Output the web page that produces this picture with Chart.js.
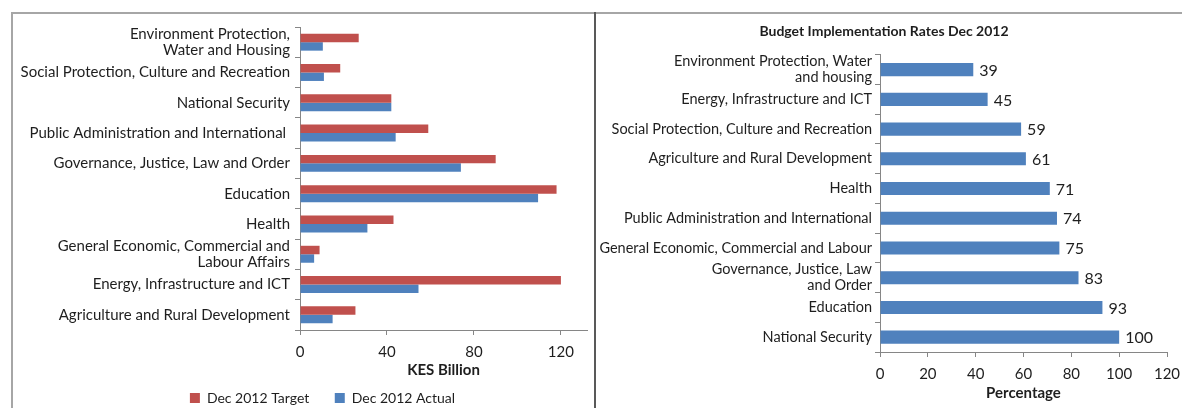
<!DOCTYPE html>
<html>
<head>
<meta charset="utf-8">
<script src="https://cdn.jsdelivr.net/npm/chart.js@4.4.1/dist/chart.umd.min.js"></script>
<style>
  html, body { margin: 0; padding: 0; background: #fff; width: 1182px; height: 408px; overflow: hidden; }
  .wrap { position: absolute; }
  .line { position: absolute; }
</style>
</head>
<body>
<div class="line" style="left:11px;top:12px;width:1171px;height:2px;background:#a6a6a6"></div>
<div class="line" style="left:11px;top:12px;width:2px;height:396px;background:#a6a6a6"></div>
<div class="line" style="left:594px;top:12px;width:2px;height:396px;background:#595959"></div>
<div class="wrap" style="left:13px;top:14px;width:581px;height:401px"><canvas id="spendChart"></canvas></div>
<div class="wrap" style="left:596px;top:14px;width:586px;height:394px"><canvas id="rateChart"></canvas></div>
<script>
const sectors = [
    ['Environment Protection,', 'Water and Housing'],
    'Social Protection, Culture and Recreation',
    'National Security',
    'Public Administration and International ',
    'Governance, Justice, Law and Order',
    'Education',
    'Health',
    ['General Economic, Commercial and', 'Labour Affairs'],
    'Energy, Infrastructure and ICT',
    'Agriculture and Rural Development'
]
const targetValues = [27, 18.5, 42, 59, 90, 118, 43, 9, 120, 25.5]
const actualValues = [10.5, 11, 42, 44, 74, 109.5, 31, 6.5, 54.5, 15]
const kesTicks = [0, 40, 80, 120]

const rateSectors = [
    ['Environment Protection, Water', 'and housing'],
    'Energy, Infrastructure and ICT',
    'Social Protection, Culture and Recreation',
    'Agriculture and Rural Development',
    'Health',
    'Public Administration and International',
    'General Economic, Commercial and Labour',
    ['Governance, Justice, Law', 'and Order'],
    'Education',
    'National Security'
]
const rateValues = [39, 45, 59, 61, 71, 74, 75, 83, 93, 100]

const red = '#C0504D'
const blue = '#4F81BD'
const axisColor = '#868686'
const textColor = '#1e1e1e'
const fontFamily = 'Lato, "Open Sans", sans-serif'

Chart.defaults.font.family = fontFamily
Chart.defaults.color = textColor
Chart.defaults.animation = false

// legend sits under the plot, not under the whole panel
const shiftLegend = {
    id: 'shiftLegend',
    afterLayout(chart) {
        chart.legend.left += 45
    }
}

let spendChart = new Chart(document.querySelector('#spendChart'), {
    type: 'bar',
    data: {
        labels: sectors,
        datasets: [{
            label: 'Dec 2012 Target',
            data: targetValues,
            backgroundColor: red,
            categoryPercentage: 0.56,
            barPercentage: 1
        }, {
            label: 'Dec 2012 Actual',
            data: actualValues,
            backgroundColor: blue,
            categoryPercentage: 0.56,
            barPercentage: 1
        }]
    },
    options: {
        indexAxis: 'y',
        responsive: true,
        maintainAspectRatio: false,
        layout: { padding: { left: 0, top: 10, right: 7, bottom: 0 } },
        scales: {
            x: {
                min: 0,
                max: 132,
                afterBuildTicks: function (scale) {
                    scale.ticks = kesTicks.map(function (v) { return { value: v } })
                },
                afterFit: function (scale) { scale.height = 57 },
                border: { color: axisColor, width: 1 },
                grid: { drawOnChartArea: false, drawTicks: true, tickLength: 5, color: axisColor },
                ticks: { padding: 8, font: { size: 15 }, color: textColor, maxRotation: 0 },
                title: {
                    display: true,
                    text: 'KES Billion',
                    font: { size: 15, weight: 'bold' },
                    color: textColor,
                    padding: { top: 0, bottom: 8 }
                }
            },
            y: {
                afterFit: function (scale) { scale.width = 287 },
                border: { color: axisColor, width: 1 },
                grid: { offset: true, drawOnChartArea: false, drawTicks: true, tickLength: 5, color: axisColor },
                ticks: { padding: 5, font: { size: 15, lineHeight: 1.07 }, color: textColor, autoSkip: false }
            }
        },
        plugins: {
            legend: {
                position: 'bottom',
                labels: {
                    boxWidth: 10,
                    boxHeight: 10,
                    padding: 4,
                    font: { size: 14 },
                    color: textColor,
                    generateLabels: function (chart) {
                        const items = Chart.defaults.plugins.legend.labels.generateLabels(chart)
                        items[0].text = items[0].text + '      '
                        return items
                    }
                }
            },
            tooltip: { enabled: false }
        }
    },
    plugins: [shiftLegend]
})

const valueLabels = {
    id: 'valueLabels',
    afterDatasetsDraw(chart) {
        const ctx = chart.ctx
        const meta = chart.getDatasetMeta(0)
        ctx.save()
        ctx.font = '16px ' + fontFamily
        ctx.fillStyle = textColor
        ctx.textAlign = 'left'
        ctx.textBaseline = 'middle'
        meta.data.forEach(function (bar, i) {
            ctx.fillText(rateValues[i], bar.x + 6, bar.y + 1)
        })
        ctx.restore()
    }
}

let rateChart = new Chart(document.querySelector('#rateChart'), {
    type: 'bar',
    data: {
        labels: rateSectors,
        datasets: [{
            label: 'Percentage',
            data: rateValues,
            backgroundColor: blue,
            categoryPercentage: 1,
            barPercentage: 0.44
        }]
    },
    options: {
        indexAxis: 'y',
        responsive: true,
        maintainAspectRatio: false,
        layout: { padding: { left: 0, top: 0, right: 10, bottom: 0 } },
        scales: {
            x: {
                min: 0,
                max: 120,
                afterFit: function (scale) {
                    scale.height = 56
                    scale.paddingRight = 15
                },
                border: { color: axisColor, width: 1 },
                grid: { drawOnChartArea: false, drawTicks: true, tickLength: 5, color: axisColor },
                ticks: { stepSize: 20, padding: 8, font: { size: 15 }, color: textColor, maxRotation: 0 },
                title: {
                    display: true,
                    text: 'Percentage',
                    font: { size: 15, weight: 'bold' },
                    color: textColor,
                    padding: { top: 0, bottom: 6 }
                }
            },
            y: {
                afterFit: function (scale) { scale.width = 284 },
                border: { color: axisColor, width: 1 },
                grid: { offset: true, drawOnChartArea: false, drawTicks: true, tickLength: 5, color: axisColor },
                ticks: { padding: 3, font: { size: 14.5, lineHeight: 1.1 }, color: textColor, autoSkip: false }
            }
        },
        plugins: {
            legend: { display: false },
            title: {
                display: true,
                text: 'Budget Implementation Rates Dec 2012',
                font: { size: 14, weight: 'bold' },
                color: textColor,
                padding: { top: 9, bottom: 15 }
            },
            tooltip: { enabled: false }
        }
    },
    plugins: [valueLabels]
})
</script>
</body>
</html>
